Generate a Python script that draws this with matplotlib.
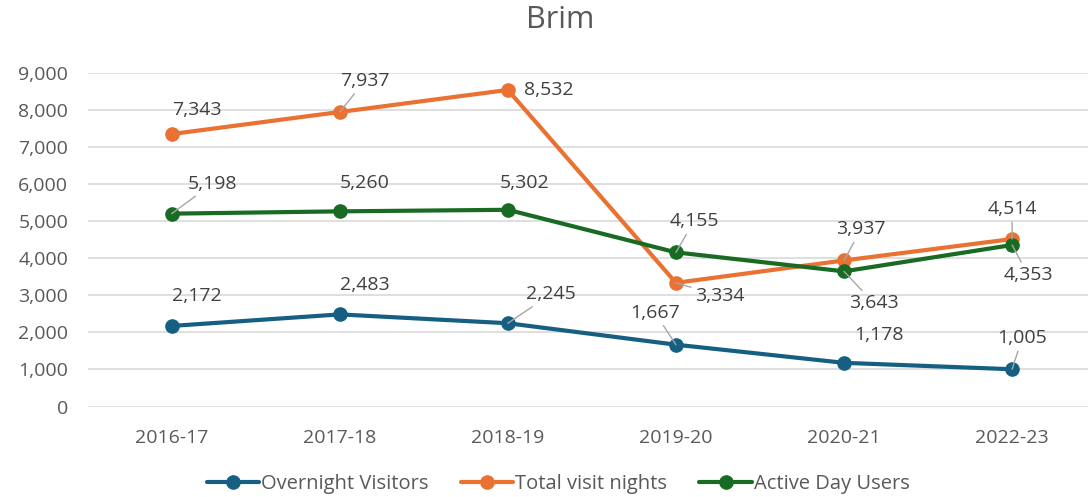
import matplotlib
matplotlib.use("Agg")
import matplotlib.pyplot as plt

years = ["2016-17", "2017-18", "2018-19", "2019-20", "2020-21", "2022-23"]
overnight_visitors = [2172, 2483, 2245, 1667, 1178, 1005]
total_visit_nights = [7343, 7937, 8532, 3334, 3937, 4514]
active_day_users = [5198, 5260, 5302, 4155, 3643, 4353]

series = [
    ("Overnight Visitors", overnight_visitors, "#156082"),
    ("Total visit nights", total_visit_nights, "#E97132"),
    ("Active Day Users", active_day_users, "#196B24"),
]

# label offsets in pixels (dx, dy upward) and whether a leader line is drawn
label_offsets = {
    "Overnight Visitors": [(25, 30, False), (25, 29, False), (43, 29, True),
                           (-21, 32, True), (35, 28, False), (10, 31, True)],
    "Total visit nights": [(25, 24, False), (25, 31, True), (41, 0, False),
                           (44, -13, True), (17, 31, True), (0, 30, True)],
    "Active Day Users": [(41, 30, True), (25, 28, False), (17, 27, False),
                         (18, 31, True), (30, -32, True), (16, -30, True)],
}

plt.rcParams["font.family"] = ["Open Sans", "DejaVu Sans"]
text_color = "#595959"

fig = plt.figure(figsize=(10.88, 4.97), dpi=100)
ax = fig.add_axes([0.0805, 0.182, 0.927, 0.672])

x = list(range(len(years)))
for name, vals, col in series:
    ax.plot(x, vals, color=col, lw=3, marker="o", ms=9.5, label=name,
            solid_capstyle="round", zorder=3)
    for i, v in enumerate(vals):
        dx, dy, leader = label_offsets[name][i]
        kw = {}
        if leader:
            kw["arrowprops"] = dict(arrowstyle="-", color="#A6A6A6", lw=1,
                                    shrinkA=1, shrinkB=0)
        ax.annotate(f"{v:,}", (i, v), xytext=(dx, dy), textcoords="offset pixels",
                    ha="center", va="center", fontsize=14, color="#404040",
                    zorder=4, **kw)

ax.set_xlim(-0.5, len(years) - 0.5)
ax.set_ylim(0, 9000)
ax.set_yticks(range(0, 9001, 1000))
ax.set_yticklabels([f"{t:,}" for t in range(0, 9001, 1000)])
ax.set_xticks(x)
ax.set_xticklabels(years)
ax.tick_params(axis="both", length=0, labelsize=14, labelcolor=text_color)
ax.tick_params(axis="x", pad=16)
ax.tick_params(axis="y", pad=14)
ax.grid(axis="y", color="#D9D9D9", lw=1.2)
ax.set_axisbelow(True)
for s in ax.spines.values():
    s.set_visible(False)

fig.suptitle("Brim", x=0.515, y=0.99, fontsize=22, color=text_color)

fig.legend(loc="lower center", bbox_to_anchor=(0.513, -0.03), ncol=3,
           frameon=False, fontsize=14.5, labelcolor=text_color,
           handlelength=2.6, columnspacing=1.6, handletextpad=0.1)

fig.savefig("out.png", dpi=100)
